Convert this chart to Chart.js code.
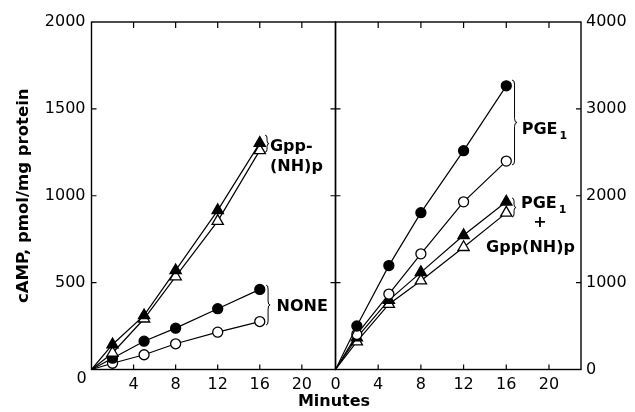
<!DOCTYPE html>
<html>
<head>
<meta charset="utf-8">
<script src="https://cdn.jsdelivr.net/npm/chart.js@4.4.1/dist/chart.umd.min.js"></script>
<style>
  html, body { margin: 0; padding: 0; background: #fff; }
  #wrap { position: relative; width: 635px; height: 412px; }
  #wrap canvas { position: absolute; left: 0; top: 0; }
</style>
</head>
<body>
<div id="wrap">
  <canvas id="leftChart" width="635" height="412"></canvas>
  <canvas id="rightChart" width="635" height="412"></canvas>
</div>
<script>
// sampling times (minutes); every curve starts at the origin
const minutes = [0, 2, 5, 8, 12, 16];

// left panel, cAMP pmol/mg protein (left axis)
const gppFilled = [0, 144, 311, 570, 916, 1303];
const gppOpen = [0, 95, 292, 535, 854, 1261];
const noneFilled = [0, 65, 163, 238, 350, 461];
const noneOpen = [0, 36, 85, 148, 215, 276];

// right panel, cAMP pmol/mg protein (right axis)
const pgeFilled = [0, 501, 1196, 1805, 2519, 3265];
const pgeOpen = [0, 405, 868, 1331, 1930, 2399];
const pgeGppFilled = [0, 366, 799, 1118, 1545, 1930];
const pgeGppOpen = [0, 320, 752, 1022, 1407, 1803];

const xTicks = [0, 4, 8, 12, 16, 20];
const yTicksLeft = [0, 500, 1000, 1500, 2000];
const yTicksRight = [0, 1000, 2000, 3000, 4000];

const FONT = "'DejaVu Sans', sans-serif";

function series(values, filled, style) {
    return {
        data: minutes.map((m, i) => ({ x: m, y: values[i] })),
        borderColor: '#000',
        borderWidth: 1.2,
        backgroundColor: filled ? '#000' : '#fff',
        pointBorderColor: '#000',
        pointBorderWidth: 1.3,
        pointStyle: style,
        pointRadius: ctx => ctx.dataIndex === 0 ? 0 : (style === 'triangle' ? 6.5 : 5),
        tension: 0,
        fill: false
    };
}

// curly brace, arms at x, tip pointing right
function drawBrace(ctx, x, y1, y2, w) {
    const ym = (y1 + y2) / 2;
    const q = Math.min(4, (y2 - y1) / 6);
    const s = x + w / 2;
    ctx.beginPath();
    ctx.moveTo(x, y1);
    ctx.quadraticCurveTo(s, y1, s, y1 + q);
    ctx.lineTo(s, ym - q);
    ctx.quadraticCurveTo(s, ym, x + w, ym);
    ctx.quadraticCurveTo(s, ym, s, ym + q);
    ctx.lineTo(s, y2 - q);
    ctx.quadraticCurveTo(s, y2, x, y2);
    ctx.stroke();
}

// frame, inward ticks and the bracket labels
const framePlugin = {
    id: 'frame',
    afterDraw(chart, args, opts) {
        const ctx = chart.ctx;
        const a = chart.chartArea;
        const xs = chart.scales.x, ys = chart.scales.y;
        ctx.save();
        ctx.strokeStyle = '#000';
        ctx.fillStyle = '#000';
        ctx.lineWidth = 1.4;
        ctx.strokeRect(a.left, a.top, a.right - a.left, a.bottom - a.top);

        ctx.lineWidth = 1.2;
        ctx.beginPath();
        xs.ticks.forEach(t => {
            if (t.value <= xs.min) return;
            const px = xs.getPixelForValue(t.value);
            ctx.moveTo(px, a.top); ctx.lineTo(px, a.top + 6);
            ctx.moveTo(px, a.bottom); ctx.lineTo(px, a.bottom - 5);
        });
        ys.ticks.forEach(t => {
            if (t.value <= ys.min || t.value >= ys.max) return;
            const py = ys.getPixelForValue(t.value);
            ctx.moveTo(a.left, py); ctx.lineTo(a.left + 5, py);
            ctx.moveTo(a.right, py); ctx.lineTo(a.right - 5, py);
        });
        ctx.stroke();

        ctx.lineWidth = 1;
        (opts.braces || []).forEach(b => {
            drawBrace(ctx, xs.getPixelForValue(b.x), ys.getPixelForValue(b.y1),
                ys.getPixelForValue(b.y2), b.w);
        });

        ctx.textBaseline = 'middle';
        (opts.texts || []).forEach(t => {
            ctx.font = 'bold 16px ' + FONT;
            ctx.textAlign = t.align || 'left';
            const px = xs.getPixelForValue(t.x), py = ys.getPixelForValue(t.y);
            ctx.fillText(t.text, px, py);
            if (t.sub) {
                const w = ctx.measureText(t.text).width;
                ctx.font = 'bold 11px ' + FONT;
                ctx.fillText(t.sub, px + w + 2, py + 6);
            }
        });

        if (opts.origin) {
            ctx.font = '16px ' + FONT;
            ctx.textAlign = 'center';
            ctx.fillText('0', a.left - 10, a.bottom + 9);
            ctx.font = 'bold 16px ' + FONT;
            ctx.fillText('Minutes', a.right - 1.5, a.bottom + 32);
        }
        ctx.restore();
    }
};

function makeChart(id, datasets, cfg) {
    const canvas = document.getElementById(id);
    return new Chart(canvas.getContext('2d'), {
        type: 'line',
        data: { datasets: datasets },
        options: {
            responsive: false,
            animation: false,
            layout: { padding: cfg.padding },
            plugins: {
                legend: { display: false },
                tooltip: { enabled: false },
                frame: cfg.frame
            },
            scales: {
                x: {
                    type: 'linear',
                    min: 0,
                    max: cfg.xMax,
                    afterBuildTicks: axis => { axis.ticks = xTicks.map(v => ({ value: v })); },
                    afterFit: axis => { axis.height = 42.5; },
                    grid: { display: false, drawTicks: false },
                    border: { display: false },
                    ticks: {
                        padding: 6,
                        color: '#000',
                        font: { family: FONT, size: 16 },
                        callback: v => (cfg.hideZero && v === 0) ? '' : String(v)
                    }
                },
                y: {
                    type: 'linear',
                    position: cfg.yPos,
                    min: 0,
                    max: cfg.yMax,
                    afterBuildTicks: axis => { axis.ticks = cfg.yTicks.map(v => ({ value: v })); },
                    afterFit: axis => { axis.width = cfg.yWidth; },
                    grid: { display: false, drawTicks: false },
                    border: { display: false },
                    title: cfg.yTitle,
                    ticks: {
                        padding: cfg.yPad,
                        color: '#000',
                        font: { family: FONT, size: 16 },
                        callback: v => (cfg.hideZero && v === 0) ? '' : String(v)
                    }
                }
            }
        },
        plugins: [framePlugin]
    });
}

document.addEventListener('DOMContentLoaded', function () {
    makeChart('leftChart', [
        series(gppFilled, true, 'triangle'),
        series(gppOpen, false, 'triangle'),
        series(noneFilled, true, 'circle'),
        series(noneOpen, false, 'circle')
    ], {
        padding: { left: 0, top: 22, right: 299.5, bottom: 0 },
        xMax: 23.2,
        yMax: 2000,
        yTicks: yTicksLeft,
        yPos: 'left',
        yWidth: 91.5,
        yPad: 6,
        hideZero: true,
        yTitle: {
            display: true,
            text: 'cAMP, pmol/mg protein',
            color: '#000',
            font: { family: FONT, size: 16.5, weight: 'bold' },
            padding: { top: 14, bottom: 0 }
        },
        frame: {
            origin: true,
            braces: [
                { x: 16.5, y1: 1349, y2: 1251, w: 4 },
                { x: 16.6, y1: 486, y2: 256, w: 4 }
            ],
            texts: [
                { text: 'Gpp-', x: 16.97, y: 1282 },
                { text: '(NH)p', x: 16.97, y: 1167 },
                { text: 'NONE', x: 17.6, y: 361 }
            ]
        }
    });

    makeChart('rightChart', [
        series(pgeFilled, true, 'circle'),
        series(pgeOpen, false, 'circle'),
        series(pgeGppFilled, true, 'triangle'),
        series(pgeGppOpen, false, 'triangle')
    ], {
        padding: { left: 335.5, top: 22, right: 0, bottom: 0 },
        xMax: 23,
        yMax: 4000,
        yTicks: yTicksRight,
        yPos: 'right',
        yWidth: 54,
        yPad: 5,
        hideZero: false,
        yTitle: { display: false },
        frame: {
            braces: [
                { x: 16.54, y1: 3332, y2: 2355, w: 5 },
                { x: 16.54, y1: 1974, y2: 1755, w: 4 }
            ],
            texts: [
                { text: 'PGE', sub: '1', x: 17.44, y: 2757 },
                { text: 'PGE', sub: '1', x: 17.38, y: 1905 },
                { text: '+', x: 19.16, y: 1683, align: 'center' },
                { text: 'Gpp(NH)p', x: 18.27, y: 1395, align: 'center' }
            ]
        }
    });
});
</script>
</body>
</html>
